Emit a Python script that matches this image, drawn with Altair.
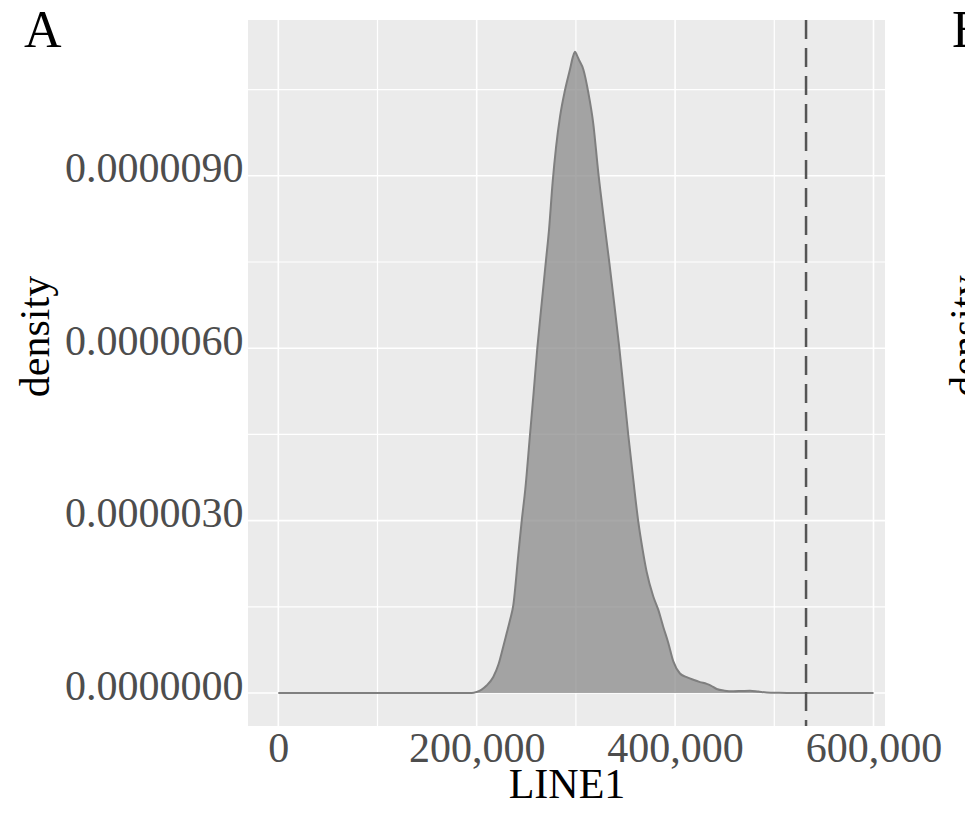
import altair as alt
import pandas as pd

# ---- data ----
line1 = [0, 150000, 195000, 200000, 205000, 210000, 216700, 222000, 226800, 230200,
         233600, 236900, 241900, 245400, 249000, 253700, 257500, 261100, 265500, 269600,
         272900, 276600, 280000, 284000, 289000, 294000, 297000, 299100, 301000, 303000,
         307500, 312500, 317500, 322600, 328300, 333700, 338800, 343800, 348300, 352800,
         357800, 362900, 367300, 371300, 378000, 383000, 388100, 393000, 398200, 404900,
         411000, 418300, 425100, 431900, 436000, 441900, 450000, 458700, 467000, 475500,
         484000, 492300, 505000, 520000, 600000]
density_e6 = [0, 0, 0, 0.02, 0.06, 0.13, 0.28, 0.50, 0.81, 1.04,
              1.27, 1.53, 2.40, 3.00, 3.55, 4.49, 5.25, 6.00, 6.78, 7.49,
              8.06, 8.90, 9.50, 10.03, 10.49, 10.85, 11.07, 11.16, 11.10, 11.02,
              10.85, 10.45, 9.91, 9.05, 8.23, 7.49, 6.75, 6.00, 5.25, 4.49,
              3.72, 2.98, 2.49, 2.11, 1.68, 1.45, 1.15, 0.88, 0.55, 0.34,
              0.28, 0.23, 0.19, 0.16, 0.13, 0.07, 0.04, 0.03, 0.035, 0.04,
              0.025, 0.01, 0.003, 0, 0]
cutoff = [532000]
x_major = [0, 200000, 400000, 600000]
x_minor = [100000, 300000, 500000]
y_major = [0, 0.000003, 0.000006, 0.000009]
y_minor = [0.0000015, 0.0000045, 0.0000075, 0.0000105]

FONT = "Liberation Serif"

df = pd.DataFrame({"LINE1": line1, "density": [d * 1e-6 for d in density_e6]})

xs = alt.Scale(domain=[-30545, 611593], nice=False, zero=False)
ys = alt.Scale(domain=[-0.000000574, 0.000011711], nice=False, zero=False)

xa = alt.Axis(values=x_major, labelExpr="format(datum.value, ',.0f')", grid=False, ticks=False,
              domain=False, labelFont=FONT, labelFontSize=42, labelColor="#4D4D4D", labelPadding=2,
              labelFlush=False, labelOverlap=False,
              title="LINE1", titleFont=FONT, titleFontSize=42, titleFontWeight="normal",
              titleColor="black", titlePadding=-5)
ya = alt.Axis(values=y_major, labelExpr="format(datum.value, '.7f')", grid=False,
              ticks=False, domain=False, labelFont=FONT, labelFontSize=42,
              labelColor="#4D4D4D", labelPadding=5, labelBaseline="alphabetic",
              labelOffset=6, labelFlush=False, labelOverlap=False,
              title="density", titleFont=FONT, titleFontSize=42,
              titleFontWeight="normal", titleColor="black", titleAngle=270,
              titleAlign="center", titleBaseline="alphabetic",
              titleX=-200, titleY=316)

xgrid_major = alt.Chart(pd.DataFrame({"v": x_major})).mark_rule(color="white", strokeWidth=1.6).encode(
    x=alt.X("v:Q", scale=xs, axis=xa, title="LINE1"))
xgrid_minor = alt.Chart(pd.DataFrame({"v": x_minor})).mark_rule(color="white", strokeWidth=1.2).encode(
    x=alt.X("v:Q", scale=xs, axis=xa, title="LINE1"))
ygrid_major = alt.Chart(pd.DataFrame({"v": y_major})).mark_rule(color="white", strokeWidth=1.6).encode(
    y=alt.Y("v:Q", scale=ys, axis=ya, title="density"))
ygrid_minor = alt.Chart(pd.DataFrame({"v": y_minor})).mark_rule(color="white", strokeWidth=1.2).encode(
    y=alt.Y("v:Q", scale=ys, axis=ya, title="density"))

base = alt.Chart(df)
area = base.mark_area(color="#8C8C8C", fillOpacity=0.76, interpolate="monotone").encode(
    x=alt.X("LINE1:Q", scale=xs, axis=xa, title="LINE1"),
    y=alt.Y("density:Q", scale=ys, axis=ya, title="density"),
)
outline = base.mark_line(color="#7F7F7F", strokeWidth=2, interpolate="monotone").encode(
    x=alt.X("LINE1:Q", scale=xs, axis=xa, title="LINE1"),
    y=alt.Y("density:Q", scale=ys, axis=ya, title="density"))

vline = alt.Chart(pd.DataFrame({"v": cutoff})).mark_rule(
    color="#555555", strokeWidth=2.5, strokeDash=[19, 9]).encode(
    x=alt.X("v:Q", scale=xs, axis=xa, title="LINE1"))

lab_a = alt.Chart(pd.DataFrame({"t": ["A"]})).mark_text(
    font=FONT, fontSize=52, color="black", align="left", baseline="alphabetic").encode(
    text="t:N", x=alt.value(-224), y=alt.value(27))
lab_b = alt.Chart(pd.DataFrame({"t": ["B"]})).mark_text(
    font=FONT, fontSize=52, color="black", align="left", baseline="alphabetic").encode(
    text="t:N", x=alt.value(704), y=alt.value(27))
lab_b_dens = alt.Chart(pd.DataFrame({"t": ["density"]})).mark_text(
    font=FONT, fontSize=42, color="black", align="center", baseline="alphabetic", angle=270).encode(
    text="t:N", x=alt.value(731), y=alt.value(316))

chart = alt.layer(
    xgrid_minor, ygrid_minor, xgrid_major, ygrid_major, area, outline, vline,
    lab_a, lab_b, lab_b_dens
).properties(
    width=637, height=706,
    autosize=alt.AutoSizeParams(type="none"),
    padding={"left": 248, "top": 20, "right": 80, "bottom": 90},
).configure(background="white").configure_view(fill="#EBEBEB", stroke=None)

chart.save("out.html", embed_options={"renderer": "svg", "actions": False})
